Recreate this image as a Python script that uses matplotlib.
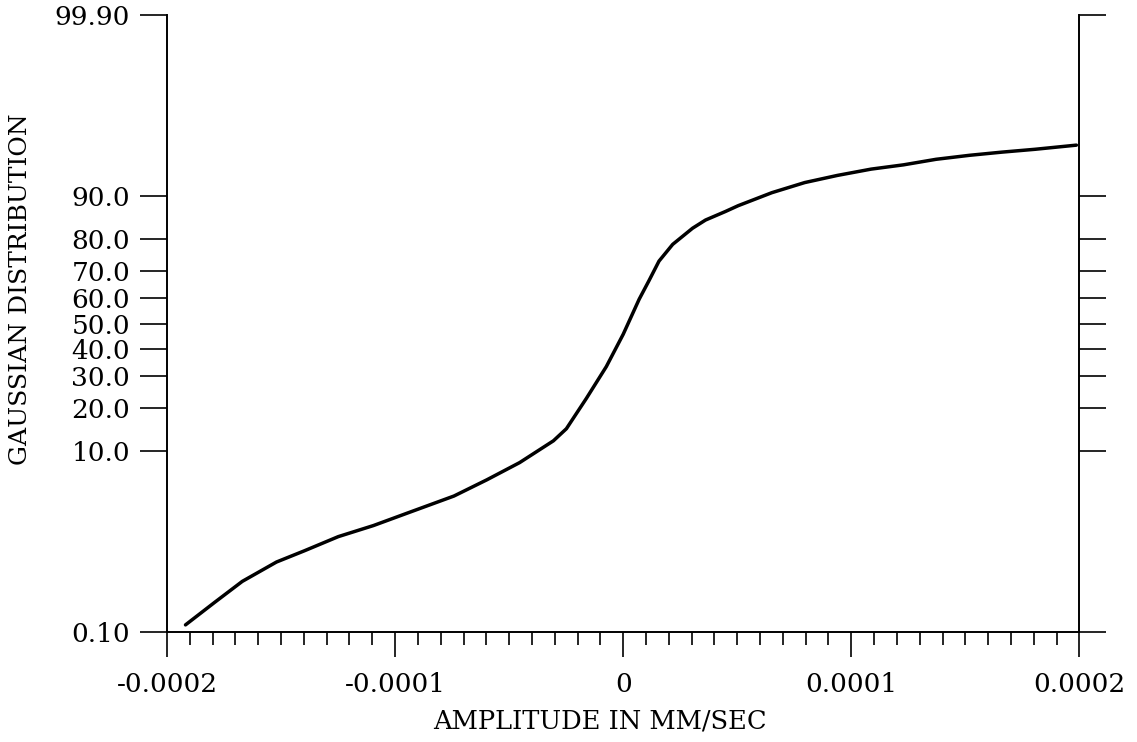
import matplotlib
matplotlib.use('Agg')
import matplotlib.pyplot as plt
import matplotlib.ticker as mticker
import numpy as np
from statistics import NormalDist

# Curve: amplitude (mm/sec) vs cumulative percent
amplitude = np.array([
    -1.919, -1.792, -1.670, -1.520, -1.398, -1.249, -1.095, -0.948,
    -0.742, -0.598, -0.454, -0.306, -0.249, -0.162, -0.074, 0.000,
    0.070, 0.113, 0.157, 0.217, 0.304, 0.361, 0.448, 0.504,
    0.652, 0.796, 0.939, 1.087, 1.229, 1.372, 1.519, 1.662,
    1.805, 1.987]) * 1e-4
percent = np.array([
    0.127, 0.26, 0.49, 0.845, 1.14, 1.64, 2.15, 2.87,
    4.2, 5.87, 8.18, 12.0, 14.6, 22.6, 33.3, 45.7,
    59.6, 66.6, 73.4, 78.6, 83.0, 85.0, 86.9, 88.1,
    90.5, 92.1, 93.1, 93.9, 94.4, 95.0, 95.4, 95.7,
    95.95, 96.3])

y_ticks = [0.1, 10, 20, 30, 40, 50, 60, 70, 80, 90, 99.9]
y_ticklabels = ['0.10', '10.0', '20.0', '30.0', '40.0', '50.0',
                '60.0', '70.0', '80.0', '90.0', '99.90']
x_ticks = [-0.0002, -0.0001, 0, 0.0001, 0.0002]
x_ticklabels = ['-0.0002', '-0.0001', '0', '0.0001', '0.0002']

# Probability (probit) scale
_nd = NormalDist()
_ppf = np.vectorize(lambda p: _nd.inv_cdf(min(max(p / 100.0, 1e-9), 1 - 1e-9)),
                    otypes=[float])
_cdf = np.vectorize(lambda z: _nd.cdf(z) * 100.0, otypes=[float])


def forward(p):
    return _ppf(np.asarray(p, dtype=float))


def inverse(z):
    return _cdf(np.asarray(z, dtype=float))


plt.rcParams['font.family'] = 'DejaVu Serif'

fig = plt.figure(figsize=(11.37, 7.42), dpi=100)
ax = fig.add_axes([0.1469, 0.1482, 0.8024, 0.8316])

ax.plot(amplitude, percent, color='black', linewidth=2.5,
        solid_capstyle='round', solid_joinstyle='round')

ax.set_yscale('function', functions=(forward, inverse))
ax.set_ylim(0.1, 99.9)
ax.set_xlim(-0.0002, 0.0002)

ax.yaxis.set_major_locator(mticker.FixedLocator(y_ticks))
ax.yaxis.set_major_formatter(mticker.FixedFormatter(y_ticklabels))
ax.yaxis.set_minor_locator(mticker.NullLocator())
ax.xaxis.set_major_locator(mticker.FixedLocator(x_ticks))
ax.xaxis.set_major_formatter(mticker.FixedFormatter(x_ticklabels))
ax.xaxis.set_minor_locator(mticker.MultipleLocator(0.00001))

ax.spines['top'].set_visible(False)
for s in ['left', 'right', 'bottom']:
    ax.spines[s].set_linewidth(1.4)

ax.tick_params(axis='y', which='major', left=True, right=True, labelright=False,
               direction='out', length=19.5, width=1.2, labelsize=19, pad=7)
ax.tick_params(axis='x', which='major', direction='out', length=18, width=1.2,
               labelsize=19, pad=11)
ax.tick_params(axis='x', which='minor', direction='out', length=9.5, width=1.2)

ax.set_xlabel('AMPLITUDE IN MM/SEC', fontsize=18.5)
ax.set_ylabel('GAUSSIAN DISTRIBUTION', fontsize=18)
ax.xaxis.set_label_coords(0.475, -0.124)
ax.yaxis.set_label_coords(-0.148, 0.556)

plt.savefig('out.png', dpi=100, facecolor='white')
